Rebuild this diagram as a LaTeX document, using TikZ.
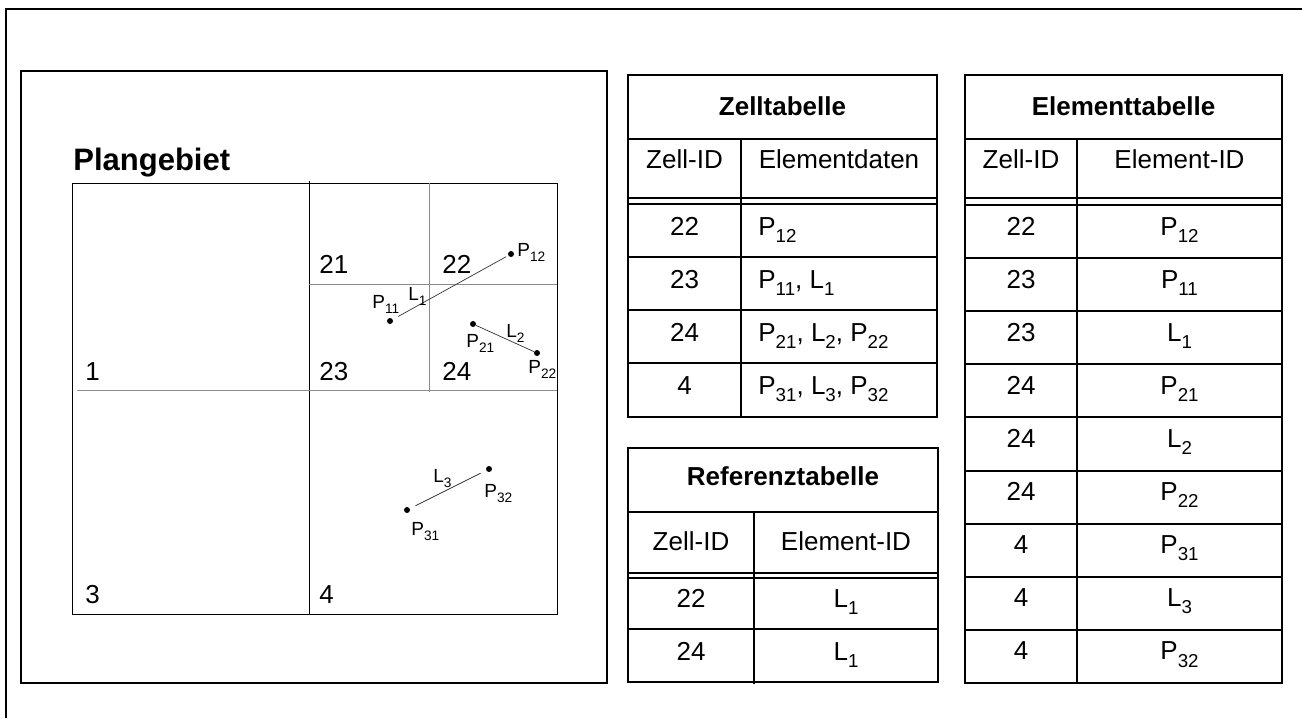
\documentclass[tikz,border=0pt]{standalone}
\usepackage{fontspec}
\setmainfont{Liberation Sans}
\definecolor{cgrid}{HTML}{8C8C8C}
\definecolor{cline}{HTML}{333333}
\newcommand{\ix}[1]{\raisebox{-.28em}{\scalebox{.72}{#1}}}
\tikzset{
  every picture/.style={font=\fontsize{13}{15}\selectfont},
  frame/.style={draw=black, line width=1pt},
  tline/.style={draw=black, line width=1pt},
  grid/.style={draw=cgrid, line width=0.5pt},
  cell/.style={anchor=base west, inner sep=0pt},
  txt/.style={anchor=base, inner sep=0pt},
  ttl/.style={anchor=base, inner sep=0pt, font=\fontsize{13}{15}\selectfont\bfseries},
  pt/.style={circle, fill=black, inner sep=0pt, minimum size=3pt},
  feat/.style={draw=cline, line width=0.35pt},
  plab/.style={anchor=base west, inner sep=0pt, font=\fontsize{9.5}{11}\selectfont},
}

\begin{document}
\begin{tikzpicture}[x=0.5pt, y=-0.5pt]
  \useasboundingbox (0,0) rectangle (1302,718);
  % outer frame (cut by the page)
  \draw[frame] (6,718) -- (6,9) -- (1302,9);
  % left: the plan area and its cells
  \draw[frame] (21,71) rectangle (607,683);
  \node[cell, font=\fontsize{15.5}{18}\selectfont\bfseries] (plan) at (73,170) {Plangebiet};
  \draw[draw=black, line width=0.5pt] (72,183) rectangle (557,614);
  \draw[draw=black, line width=0.5pt] (309,181) -- (309,614);
  \draw[grid] (77,390) -- (557,390);
  \draw[grid] (309,284) -- (557,284);
  \draw[grid] (429,183) -- (429,392);
  \node[cell] (c1) at (85,380) {1};
  \node[cell] (c21) at (319,273) {21};
  \node[cell] (c22) at (442,273) {22};
  \node[cell] (c23) at (319,380) {23};
  \node[cell] (c24) at (442,380) {24};
  \node[cell] (c3) at (85,603) {3};
  \node[cell] (c4) at (319,603) {4};
  % points and lines
  \node[pt] (p11) at (390,321) {};
  \node[pt] (p12) at (511,254) {};
  \node[pt] (p21) at (473,324) {};
  \node[pt] (p22) at (537,353) {};
  \node[pt] (p31) at (407,510) {};
  \node[pt] (p32) at (489,469) {};
  \draw[feat, shorten <=3pt, shorten >=1pt] (p11) -- (p12);
  \draw[feat] (p21) -- (p22);
  \draw[feat, shorten <=3pt, shorten >=3pt] (p31) -- (p32);
  \node[plab] (lp11) at (372,308) {P\ix{11}};
  \node[plab] (lp12) at (517,256) {P\ix{12}};
  \node[plab] (ll1) at (408,300) {L\ix{1}};
  \node[plab] (lp21) at (466,347) {P\ix{21}};
  \node[plab] (ll2) at (506,337) {L\ix{2}};
  \node[plab] (lp22) at (528,373) {P\ix{22}};
  \node[plab] (lp31) at (411,535) {P\ix{31}};
  \node[plab] (lp32) at (484,497) {P\ix{32}};
  \node[plab] (ll3) at (433,482) {L\ix{3}};
  % Zelltabelle
  \draw[tline] (628,75) rectangle (937,417);
  \draw[tline] (628,139) -- (937,139);
  \draw[tline, line width=0.8pt] (628,198) -- (937,198);
  \draw[tline, line width=0.8pt] (628,204) -- (937,204);
  \draw[tline] (741,139) -- (741,417);
  \foreach \y in {257,310,363} \draw[tline] (628,\y) -- (937,\y);
  \node[ttl] (zt) at (782.5,115) {Zelltabelle};
  \node[txt] (zh1) at (684.5,168) {Zell-ID};
  \node[txt] (zh2) at (839,168) {Elementdaten};
  \foreach \z/\d [count=\i from 0] in {22/P\ix{12}, 23/{P\ix{11}, L\ix{1}},
      24/{P\ix{21}, L\ix{2}, P\ix{22}}, 4/{P\ix{31}, L\ix{3}, P\ix{32}}} {
    \node[txt] (zz\i) at (684.5,235+53.2*\i) {\z};
    \node[cell] (zd\i) at (758,235+53.2*\i) {\d};
  }
  % Referenztabelle
  \draw[tline] (628,448) rectangle (938,682);
  \draw[tline] (628,512) -- (938,512);
  \draw[tline, line width=0.8pt] (628,573) -- (938,573);
  \draw[tline, line width=0.8pt] (628,578) -- (938,578);
  \draw[tline] (628,629) -- (938,629);
  \draw[tline] (754,512) -- (754,684);
  \node[ttl] (rt) at (783,485) {Referenztabelle};
  \node[txt] (rh1) at (691,550) {Zell-ID};
  \node[txt] (rh2) at (846,550) {Element-ID};
  \node[txt] (rz0) at (691,607) {22};
  \node[txt] (re0) at (846,607) {L\ix{1}};
  \node[txt] (rz1) at (691,660) {24};
  \node[txt] (re1) at (846,660) {L\ix{1}};
  % Elementtabelle
  \draw[tline] (965,75) rectangle (1282,683);
  \draw[tline] (965,139) -- (1282,139);
  \draw[tline, line width=0.8pt] (965,198) -- (1282,198);
  \draw[tline, line width=0.8pt] (965,205) -- (1282,205);
  \draw[tline] (1077,139) -- (1077,683);
  \foreach \k in {1,...,8} \draw[tline] (965,205+53.1*\k) -- (1282,205+53.1*\k);
  \node[ttl] (et) at (1123.5,115) {Elementtabelle};
  \node[txt] (eh1) at (1021,168) {Zell-ID};
  \node[txt] (eh2) at (1179.5,168) {Element-ID};
  \foreach \z/\e [count=\i from 0] in {22/P\ix{12}, 23/P\ix{11}, 23/L\ix{1},
      24/P\ix{21}, 24/L\ix{2}, 24/P\ix{22}, 4/P\ix{31}, 4/L\ix{3}, 4/P\ix{32}} {
    \node[txt] (ez\i) at (1021,235+53.1*\i) {\z};
    \node[txt] (ee\i) at (1179.5,235+53.1*\i) {\e};
  }
\end{tikzpicture}
\end{document}
